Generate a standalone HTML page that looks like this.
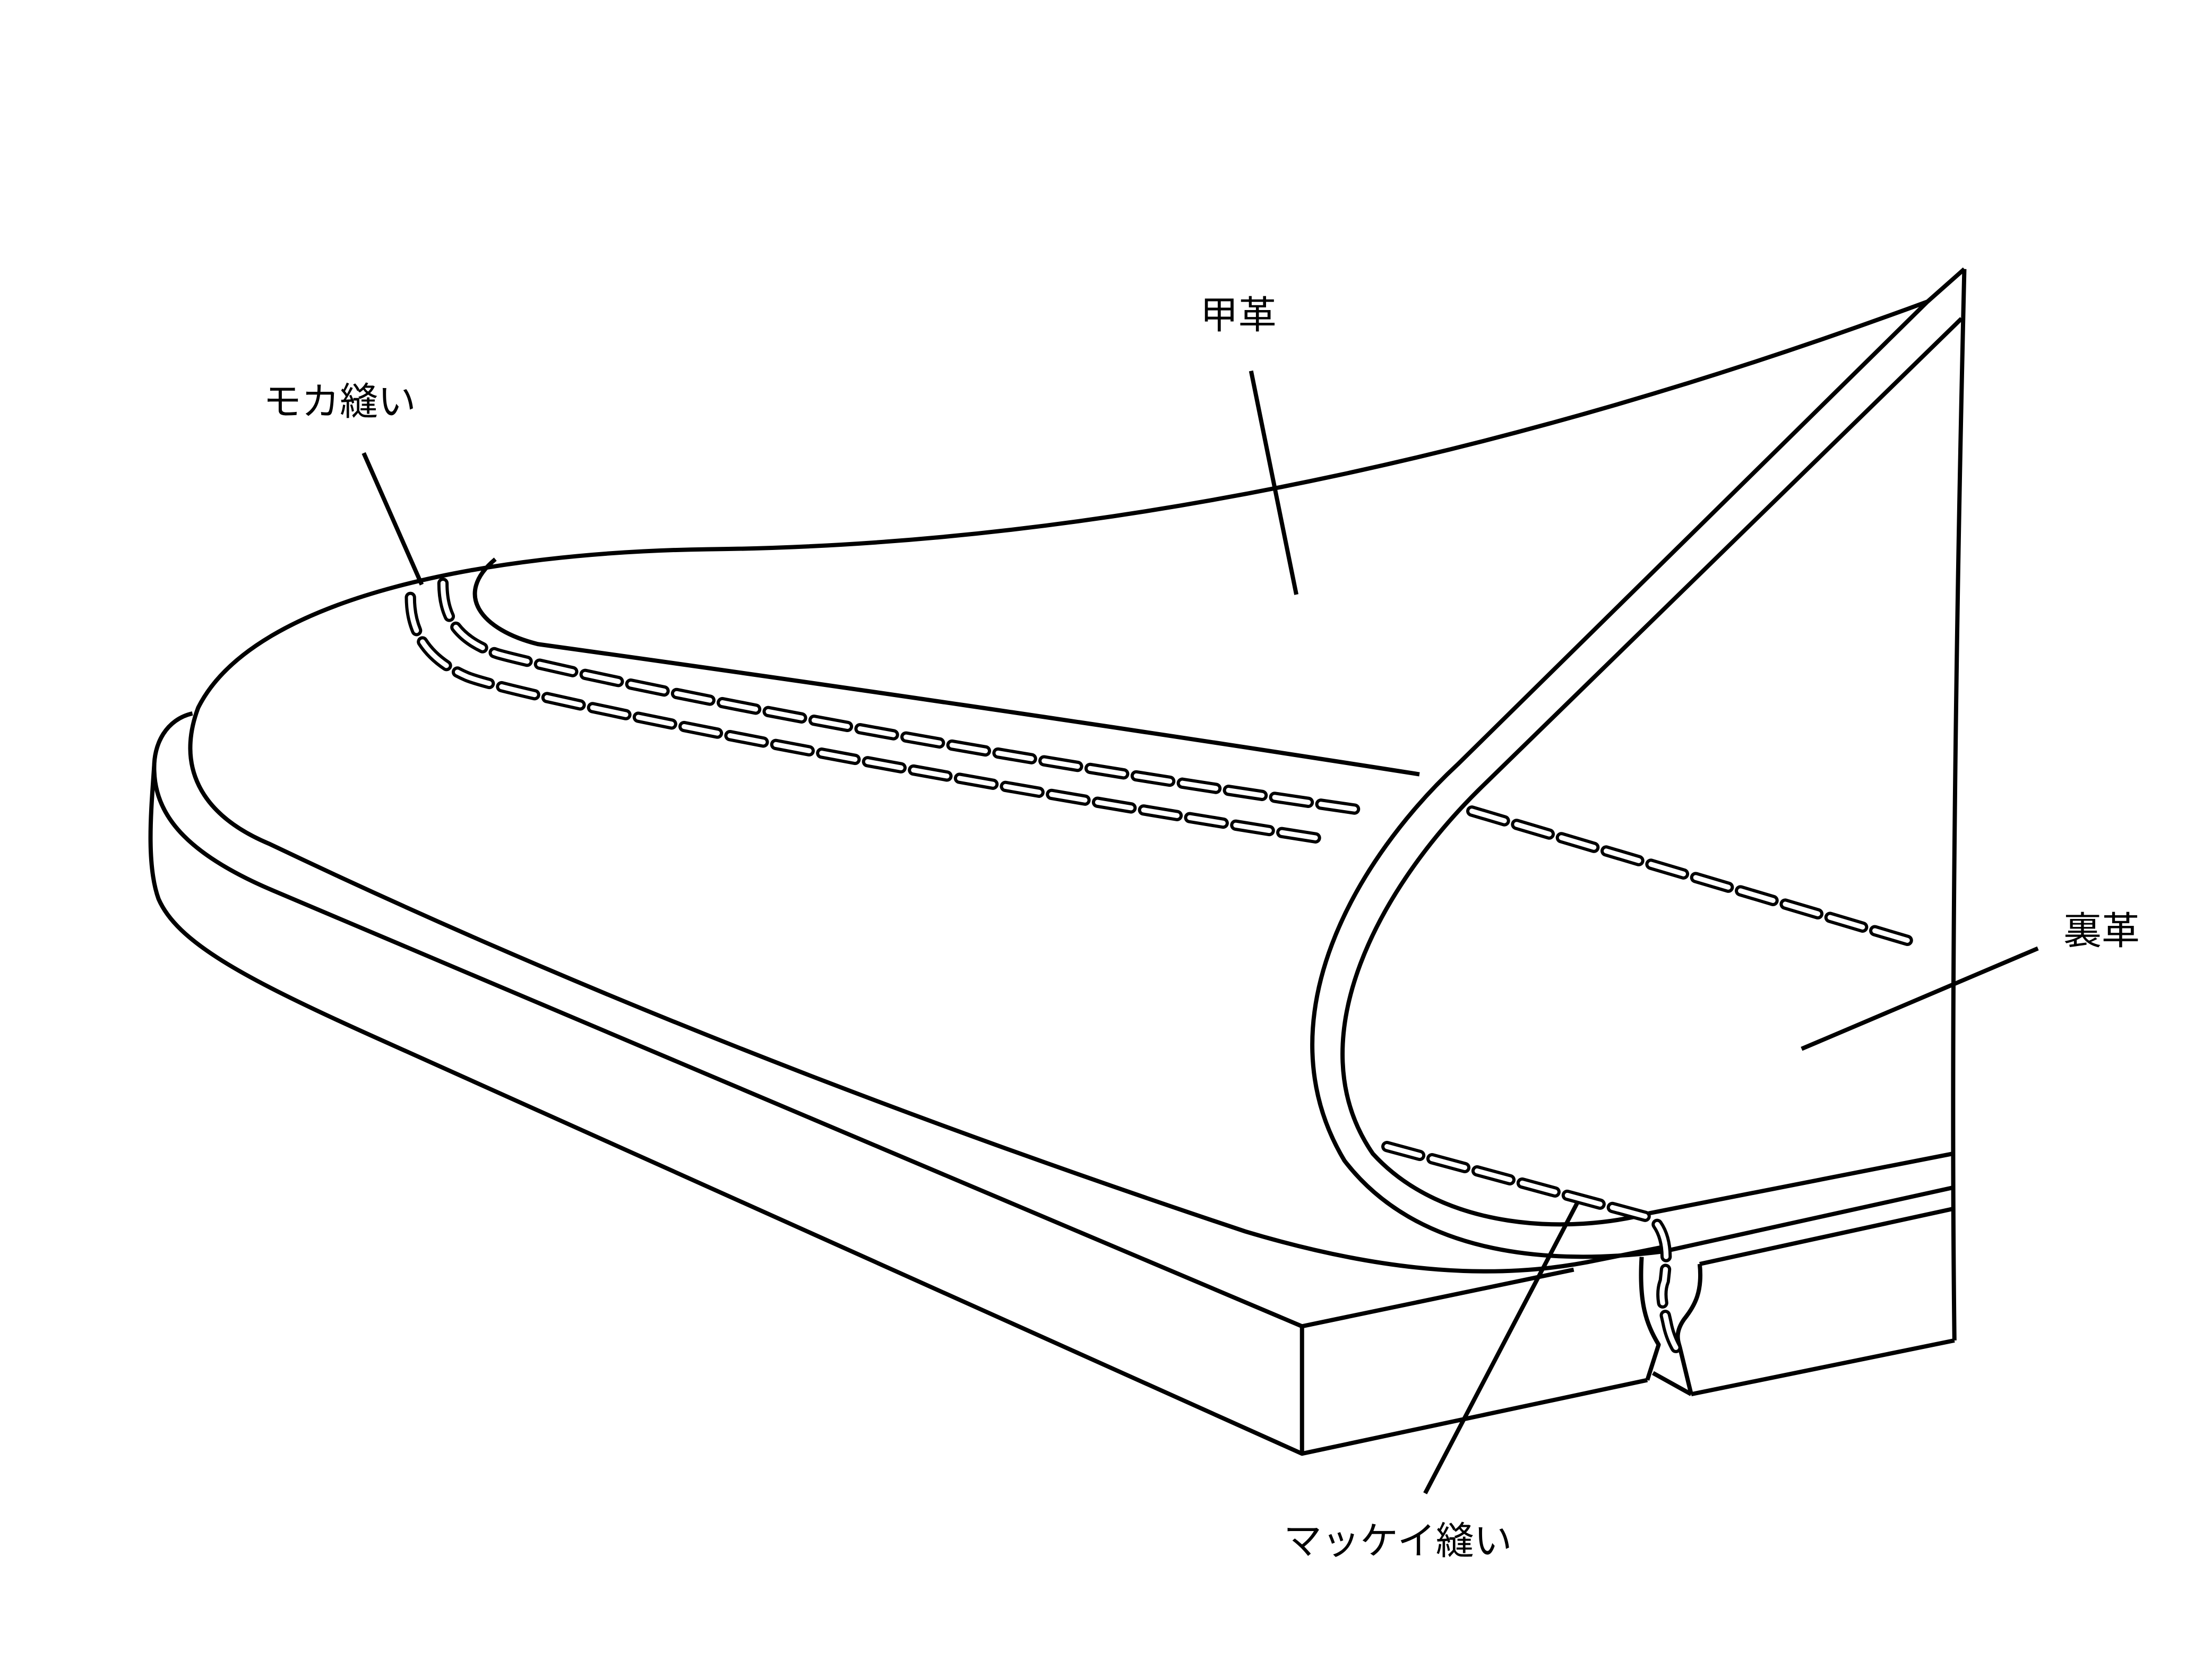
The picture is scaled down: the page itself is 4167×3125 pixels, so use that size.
<!DOCTYPE html>
<html><head><meta charset="utf-8"><style>
html,body{margin:0;padding:0;background:#fff;}
svg{display:block;}
text{font-family:"Liberation Sans","Noto Sans CJK JP",sans-serif;font-size:27px;fill:#000;}
</style></head><body>
<svg width="4167" height="3125" viewBox="0 0 1563 1172" xmlns="http://www.w3.org/2000/svg">
<g fill="none" stroke="#000" stroke-width="3" stroke-linejoin="round">
<!-- welt / sole -->
<path d="M136,504 C118,508 108,525 109,545 C110,578 135,605 195,630 L920,937 L1112,897"/>
<path d="M109,540 C107,570 103,610 112,635 C125,665 170,690 261,731 L920,1027 L1164,975"/>
<path d="M920,937 L920,1027"/>
<path d="M1201,893 L1380,854"/>
<path d="M1195,985 L1381,947"/>
<path d="M1195,985 L1168,970"/>
<path d="M1160,888 C1158,920 1163,935 1172,950 L1164,975"/>
<path d="M1201,893 C1203,912 1198,922 1190,932 C1183,942 1186,948 1187,952 L1195,985"/>
<!-- upper -->
<path d="M1362,213 C1100,310 800,385 500,388 C350,390 180,420 140,500 C125,540 140,575 190,596 C450,720 700,810 880,870 C980,900 1060,905 1130,890 L1180,880"/>
<path d="M350,395 C320,420 340,445 380,455 C560,480 800,515 1003,547"/>
<!-- lining -->
<path d="M1388,190 L1362,213 L1030,540 C960,605 890,720 950,820 C1000,885 1090,895 1176,884 L1380,839"/>
<path d="M1386,225 L1050,553 C975,625 915,735 970,815 C1020,870 1110,872 1166,857 L1380,815"/>
<path d="M1388,190 C1383,400 1378,700 1381,947"/>
<!-- leaders -->
<path d="M884,262 L916,420"/>
<path d="M257,320 L298,413"/>
<path d="M1440,670 L1273,741"/>
<path d="M1007,1055 L1117,845"/>
</g>
<!-- stitches -->
<g fill="none" stroke-linecap="round">
<g stroke="#000" stroke-width="8" stroke-dasharray="24 9">
<path d="M290,422 C290,445 300,465 330,478 C360,490 600,540 930,592"/>
<path d="M313,412 C313,435 322,452 352,462 C380,470 600,520 960,572"/>
<path d="M1040,573 L1350,665"/>
<path d="M980,810 L1165,860"/>
<path d="M1171,865 C1180,878 1177,895 1176,905 C1172,915 1176,925 1178,935 C1180,945 1184,952 1186,955"/>
</g>
<g stroke="#fff" stroke-width="3.5" stroke-dasharray="24 9">
<path d="M290,422 C290,445 300,465 330,478 C360,490 600,540 930,592"/>
<path d="M313,412 C313,435 322,452 352,462 C380,470 600,520 960,572"/>
<path d="M1040,573 L1350,665"/>
<path d="M980,810 L1165,860"/>
<path d="M1171,865 C1180,878 1177,895 1176,905 C1172,915 1176,925 1178,935 C1180,945 1184,952 1186,955"/>
</g>
</g>
<text x="848" y="232">甲革</text>
<text x="186" y="293">モカ縫い</text>
<text x="1458" y="667">裏革</text>
<text x="907" y="1098">マッケイ縫い</text>
</svg>
</body></html>
